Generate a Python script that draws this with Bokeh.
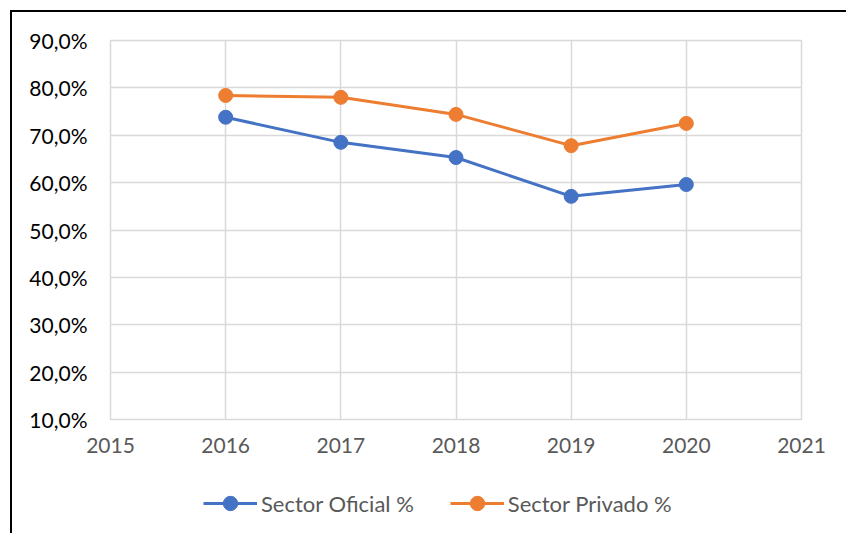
import numpy as np
from bokeh.plotting import figure
from bokeh.layouts import column
from bokeh.models import Legend, LegendItem, FixedTicker, Range1d
from bokeh.embed import file_html
from bokeh.resources import INLINE

years = [2016, 2017, 2018, 2019, 2020]
oficial = [73.8, 68.5, 65.3, 57.1, 59.6]
privado = [78.4, 78.0, 74.4, 67.8, 72.5]
x_ticks = [2015, 2016, 2017, 2018, 2019, 2020, 2021]
y_ticks = [10, 20, 30, 40, 50, 60, 70, 80, 90]
y_tick_labels = ["10,0%", "20,0%", "30,0%", "40,0%", "50,0%", "60,0%", "70,0%", "80,0%", "90,0%"]
names = ["Sector Oficial %", "Sector Privado %"]
colors = ["#4472C4", "#ED7D31"]

FONT = "Lato"
FS = "21px"
W = 834
GRID = "#D9D9D9"

p = figure(width=W, height=458, output_backend="svg", toolbar_location=None,
           x_range=Range1d(2015, 2021), y_range=Range1d(10, 90),
           min_border_left=98, min_border_right=45, min_border_top=28, min_border_bottom=51)
p.outline_line_color = GRID
p.outline_line_width = 1.5

p.xaxis.ticker = FixedTicker(ticks=x_ticks)
p.yaxis.ticker = FixedTicker(ticks=y_ticks)
p.yaxis.major_label_overrides = {t: l for t, l in zip(y_ticks, y_tick_labels)}
for ax in (p.xaxis, p.yaxis):
    ax.axis_line_color = None
    ax.major_tick_line_color = None
    ax.minor_tick_line_color = None
    ax.major_tick_out = 0
    ax.major_label_text_font = FONT
    ax.major_label_text_font_size = FS
p.xaxis.major_label_text_color = "#595959"
p.yaxis.major_label_text_color = "#000000"
p.yaxis.major_label_standoff = 23
p.xaxis.major_label_standoff = 18
p.xgrid.grid_line_color = GRID
p.ygrid.grid_line_color = GRID
p.xgrid.grid_line_width = 1.5
p.ygrid.grid_line_width = 1.5

for vals, c in zip([oficial, privado], colors):
    p.line(years, vals, line_color=c, line_width=3)
    p.scatter(years, vals, size=14, fill_color=c, line_color=c)

# legend strip below the chart (swatch renderers hold no visible points)
lg = figure(width=W, height=63, output_backend="svg", toolbar_location=None,
            x_range=Range1d(0, 1), y_range=Range1d(0, 1),
            x_axis_location=None, y_axis_location=None,
            min_border_left=0, min_border_right=0, min_border_top=0, min_border_bottom=0)
lg.outline_line_color = None
lg.xgrid.visible = False
lg.ygrid.visible = False
items = []
for name, c in zip(names, colors):
    l = lg.line(np.array([np.nan]), np.array([np.nan]), line_color=c, line_width=3)
    s = lg.scatter(np.array([np.nan]), np.array([np.nan]), size=14, fill_color=c, line_color=c)
    items.append(LegendItem(label=name, renderers=[l, s]))
legend = Legend(items=items, orientation="horizontal", location=(93, 12),
                label_text_font=FONT, label_text_font_size="22px", label_text_color="#595959",
                glyph_width=54, glyph_height=36, label_standoff=4, spacing=36,
                border_line_color=None, background_fill_alpha=0, margin=0, padding=0)
lg.add_layout(legend, "center")

page = column(p, lg, styles={"margin-left": "10px", "margin-top": "10px",
                             "border-left": "2px solid black", "border-top": "2px solid black"})

open("out.html", "w").write(file_html(page, INLINE))
